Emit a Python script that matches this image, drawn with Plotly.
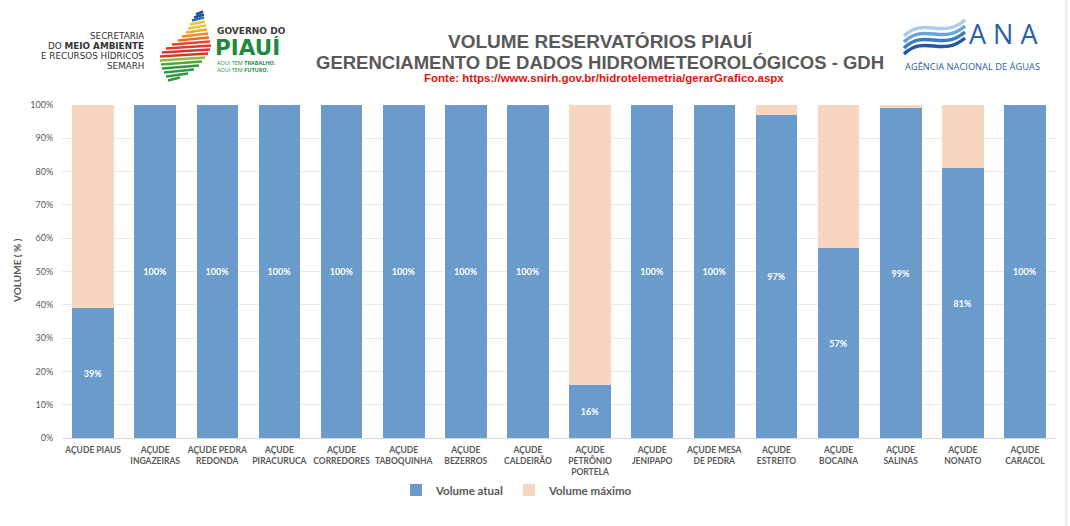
import plotly.graph_objects as go

# Données
reservatorios = [
    "AÇUDE PIAUS", "AÇUDE<br>INGAZEIRAS", "AÇUDE PEDRA<br>REDONDA", "AÇUDE<br>PIRACURUCA",
    "AÇUDE<br>CORREDORES", "AÇUDE<br>TABOQUINHA", "AÇUDE<br>BEZERROS", "AÇUDE<br>CALDEIRÃO",
    "AÇUDE<br>PETRÔNIO<br>PORTELA", "AÇUDE<br>JENIPAPO", "AÇUDE MESA<br>DE PEDRA", "AÇUDE<br>ESTREITO",
    "AÇUDE<br>BOCAINA", "AÇUDE<br>SALINAS", "AÇUDE<br>NONATO", "AÇUDE<br>CARACOL",
]
volume_atual = [39, 100, 100, 100, 100, 100, 100, 100, 16, 100, 100, 97, 57, 99, 81, 100]
volume_maximo = [61, 0, 0, 0, 0, 0, 0, 0, 84, 0, 0, 3, 43, 1, 19, 0]
y_ticks = [0, 10, 20, 30, 40, 50, 60, 70, 80, 90, 100]
y_ticktext = ["0%", "10%", "20%", "30%", "40%", "50%", "60%", "70%", "80%", "90%", "100%"]

# Géométrie de la page (pixels -> coordonnées papier)
W, H = 1070, 526
L, R, T, B = 62, 14, 105, 88


def px(x):
    return (x - L) / (W - L - R)


def py(y):
    return (H - B - y) / (H - T - B)


GRIS = "#595959"
BLEU = "#6a9bcb"
PECHE = "#f8d5bf"

fig = go.Figure()
fig.add_trace(go.Bar(
    x=reservatorios, y=volume_atual, name="Volume atual",
    marker=dict(color=BLEU, line=dict(width=0)),
    text=[f"{v}%" for v in volume_atual], textposition="inside", insidetextanchor="middle",
    textangle=0, textfont=dict(family="Lato", size=9, color="white", weight="bold"),
))
fig.add_trace(go.Bar(
    x=reservatorios, y=volume_maximo, name="Volume máximo",
    marker=dict(color=PECHE, line=dict(width=0)),
    textposition="none",
))

annotations = [
    # titres
    dict(x=px(600), y=py(41), text="VOLUME RESERVATÓRIOS PIAUÍ", height=18,
         font=dict(family="Liberation Sans", size=19, color=GRIS, weight="bold")),
    dict(x=px(600), y=py(62), text="GERENCIAMENTO DE DADOS HIDROMETEOROLÓGICOS - GDH", height=18,
         font=dict(family="Liberation Sans", size=18.5, color=GRIS, weight="bold")),
    dict(x=px(604), y=py(78), text="Fonte: https://www.snirh.gov.br/hidrotelemetria/gerarGrafico.aspx",
         height=12, font=dict(family="Liberation Sans", size=11.5, color="#e3120b", weight="bold")),
    # axe Y
    dict(x=px(17), y=py(271), text="VOLUME ( % )", textangle=-90,
         font=dict(family="Lato", size=10, color=GRIS, weight="bold")),
    # logo Governo do Piauí
    dict(x=px(215), y=py(31), xanchor="left", text="GOVERNO DO", height=8,
         font=dict(family="DejaVu Sans", size=9, color="#3a3a3a", weight="bold")),
    dict(x=px(213), y=py(47), xanchor="left", text="PIAUÍ", height=22,
         font=dict(family="DejaVu Sans", size=21.5, color="#1f8a3b", weight="bold")),
    dict(x=px(215), y=py(63), xanchor="left", text="AQUI TEM <b>TRABALHO.</b>", height=5,
         font=dict(family="Open Sans", size=5.5, color="#1f8a3b")),
    dict(x=px(215), y=py(69), xanchor="left", text="AQUI TEM <b>FUTURO.</b>", height=5,
         font=dict(family="Open Sans", size=5.5, color="#1f8a3b")),
    # logo ANA
    dict(x=px(967), y=py(33), xanchor="left", text="A N A", height=24,
         font=dict(family="Open Sans", size=27, color="#2b5fa6")),
    dict(x=px(972), y=py(66), text="AGÊNCIA NACIONAL DE ÁGUAS", height=10,
         font=dict(family="Open Sans", size=9.3, color="#2b5fa6")),
]
# logo SEMARH, une ligne par annotation
semarh = ["SECRETARIA", "DO <b>MEIO AMBIENTE</b>", "E RECURSOS HÍDRICOS", "SEMARH"]
for i, ligne in enumerate(semarh):
    annotations.append(dict(x=px(146), y=py(35 + 10 * i), xanchor="right", text=ligne, height=9,
                            font=dict(family="DejaVu Sans", size=8.8, color="#333333")))

for a in annotations:
    a.update(xref="paper", yref="paper", showarrow=False, yanchor="middle",
             xanchor=a.get("xanchor", "center"))

shapes = []
# bandes du logo Piauí : (y, x0, x1, couleur)
bandes = [
    (13, 196, 203, "#1d4f9c"), (16, 194, 204, "#1d4f9c"), (19, 192, 204, "#2a6fb8"),
    (23, 190, 205, "#f2c230"), (27, 188, 206, "#f2c230"), (31, 186, 207, "#f4a92c"),
    (35, 182, 208, "#f08a24"), (39, 178, 209, "#ef6a22"), (43, 172, 210, "#e8452b"),
    (47, 166, 211, "#e03a2e"), (51, 162, 210, "#d8342f"), (55, 160, 208, "#d8342f"),
    (59, 160, 205, "#8bbf3a"), (63, 161, 202, "#4ea63c"), (67, 162, 199, "#2f9a3f"),
    (71, 164, 194, "#2f9a3f"), (75, 166, 188, "#2f9a3f"), (79, 168, 180, "#2f9a3f"),
]
for y, x0, x1, c in bandes:
    shapes.append(dict(type="line", xref="paper", yref="paper",
                       x0=px(x0), y0=py(y + 1.5), x1=px(x1), y1=py(y - 1.5),
                       line=dict(color=c, width=2.6)))

# vagues du logo ANA
vagues = [("#a9cdea", 0), ("#6aa5da", 6), ("#3a7bc2", 12), ("#2557a3", 18)]
for c, d in vagues:
    pts = [(904, 36 + d), (925, 16 + d), (942, 40 + d), (965, 20 + d)]
    path = "M {},{} C {},{} {},{} {},{}".format(
        px(pts[0][0]), py(pts[0][1]), px(pts[1][0]), py(pts[1][1]),
        px(pts[2][0]), py(pts[2][1]), px(pts[3][0]), py(pts[3][1]))
    shapes.append(dict(type="path", xref="paper", yref="paper", path=path,
                       line=dict(color=c, width=3.5)))

# bordure droite de l'image
shapes.append(dict(type="line", xref="paper", yref="paper",
                   x0=px(1066), x1=px(1066), y0=py(0), y1=py(H),
                   line=dict(color="#d9d9d9", width=1)))

fig.update_layout(
    width=W, height=H,
    margin=dict(l=L, r=R, t=T, b=B),
    barmode="stack", bargap=0.33,
    plot_bgcolor="white", paper_bgcolor="white",
    font=dict(family="Lato", color=GRIS),
    showlegend=True,
    legend=dict(orientation="h", x=px(517), xanchor="center", y=py(490), yanchor="middle",
                font=dict(family="Lato", size=11.5, color=GRIS, weight="bold"),
                itemwidth=30, traceorder="normal"),
    annotations=annotations,
    shapes=shapes,
)
fig.update_xaxes(
    showline=True, linecolor="#d9d9d9", linewidth=1,
    ticks="outside", ticklen=4, tickcolor="white",
    tickfont=dict(family="Lato", size=8.5, color=GRIS, weight="bold"),
    tickangle=0,
)
fig.update_yaxes(
    range=[0, 100], tickvals=y_ticks, ticktext=y_ticktext,
    showgrid=True, gridcolor="#e9e9e9", zeroline=False,
    tickfont=dict(family="Lato", size=9, color=GRIS),
    ticks="outside", ticklen=6, tickcolor="white",
)

fig.write_html("out.html", config={"displayModeBar": False},
               post_script="document.body.style.margin='0px';")
